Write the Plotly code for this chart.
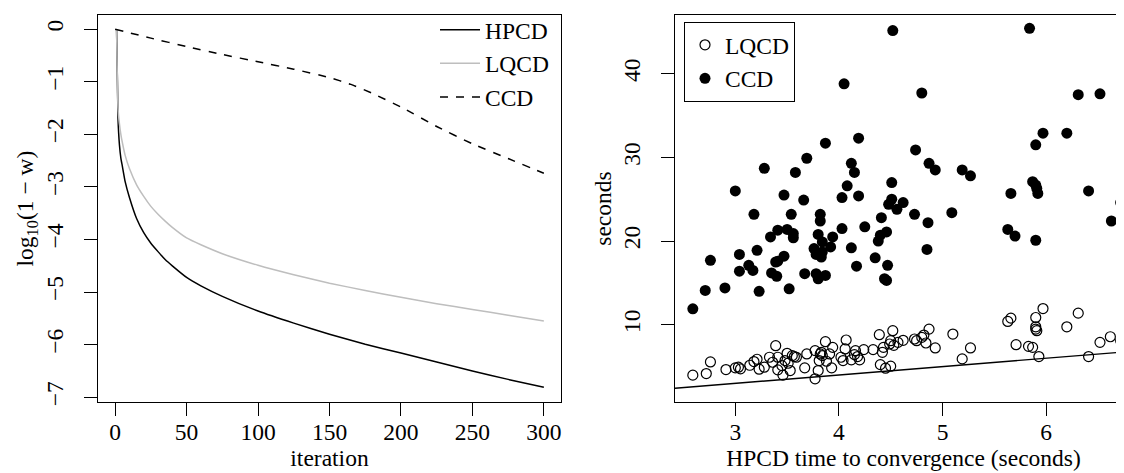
import plotly.graph_objects as go

# ---------------- Left panel data: log10(1 - w) by iteration ----------------
iter_hpcd = [1, 2, 3, 4, 5, 7, 10, 15, 20, 25, 30, 35, 40, 50, 60, 75, 100, 125, 150, 175, 200, 225, 250, 275, 300]
hpcd = [0, -1.70, -2.20, -2.45, -2.60, -2.90, -3.20, -3.60, -3.87, -4.07, -4.23, -4.38, -4.50, -4.72, -4.88, -5.08,
        -5.36, -5.59, -5.80, -5.99, -6.16, -6.33, -6.50, -6.66, -6.81]

iter_lqcd = [1, 2, 3, 4, 5, 7, 10, 15, 20, 25, 30, 35, 40, 50, 60, 75, 100, 125, 150, 175, 200, 225, 250, 275, 300]
lqcd = [0, -1.50, -1.80, -2.00, -2.15, -2.40, -2.65, -2.96, -3.18, -3.37, -3.52, -3.65, -3.77, -3.97, -4.10, -4.27,
        -4.49, -4.67, -4.83, -4.97, -5.10, -5.22, -5.33, -5.44, -5.55]

iter_ccd = [0, 25, 50, 75, 100, 125, 150, 165, 180, 200, 225, 250, 275, 300]
ccd = [0, -0.17, -0.33, -0.48, -0.62, -0.76, -0.92, -1.05, -1.22, -1.48, -1.85, -2.18, -2.46, -2.74]

left_xticks = [0, 50, 100, 150, 200, 250, 300]
left_yticks = [0, -1, -2, -3, -4, -5, -6, -7]
left_yticktext = ["0", "\u22121", "\u22122", "\u22123", "\u22124", "\u22125", "\u22126", "\u22127"]

# ---------------- Right panel data: seconds vs HPCD time ----------------
lqcd_time_x = [2.59, 2.72, 2.76, 2.91, 3.00, 3.03, 3.05, 3.14, 3.18, 3.21, 3.23, 3.28, 3.33, 3.36, 3.39, 3.41, 3.41,
               3.45, 3.46, 3.48, 3.50, 3.51, 3.53, 3.55, 3.57, 3.59, 3.67, 3.69, 3.77, 3.77, 3.80, 3.81, 3.82, 3.83,
               3.84, 3.87, 3.88, 3.91, 3.93, 3.94, 4.02, 4.04, 4.06, 4.07, 4.12, 4.15, 4.16, 4.18, 4.20, 4.24, 4.33,
               4.39, 4.40, 4.42, 4.43, 4.45, 4.49, 4.50, 4.50, 4.52, 4.53, 4.57, 4.62, 4.73, 4.75, 4.80, 4.82, 4.84,
               4.87, 4.93, 5.10, 5.19, 5.27, 5.63, 5.66, 5.71, 5.83, 5.87, 5.90, 5.90, 5.90, 5.91, 5.93, 5.97, 6.20,
               6.31, 6.41, 6.52, 6.62, 6.72]
lqcd_time_y = [3.98, 4.17, 5.56, 4.65, 4.85, 4.93, 4.73, 5.16, 5.60, 5.88, 4.69, 4.93, 6.12, 5.52, 7.50, 6.12, 4.61,
               5.12, 3.98, 5.72, 6.59, 5.40, 4.53, 6.31, 6.20, 6.12, 4.85, 6.51, 6.91, 3.54, 4.53, 5.72, 6.51, 6.71,
               6.31, 7.98, 5.64, 6.51, 4.85, 7.30, 6.12, 5.72, 7.11, 8.18, 5.80, 6.43, 6.91, 6.20, 5.80, 7.03, 7.03,
               8.81, 5.24, 6.71, 7.30, 4.81, 7.70, 5.05, 8.10, 9.29, 7.54, 7.90, 8.14, 8.30, 8.10, 8.49, 8.77, 7.82,
               9.48, 7.23, 8.89, 5.92, 7.23, 10.40, 10.79, 7.62, 7.42, 7.30, 10.87, 9.76, 9.48, 9.29, 6.20, 11.94,
               9.76, 11.39, 6.20, 7.90, 8.57, 8.10]

ccd_time_x = [4.52, 5.84, 4.05, 4.80, 6.31, 6.52, 5.97, 6.20, 4.19, 3.87, 5.90, 4.74, 3.69, 4.12, 4.87, 3.28, 4.93,
              5.19, 3.58, 4.15, 5.27, 5.87, 4.51, 5.90, 4.08, 5.91, 3.00, 6.41, 5.92, 5.66, 3.47, 4.19, 4.03, 4.51,
              3.66, 4.62, 4.48, 6.72, 4.56, 5.09, 3.54, 3.18, 4.73, 3.82, 4.41, 3.82, 4.86, 6.63, 4.25, 3.41, 3.50,
              4.03, 5.63, 4.46, 3.56, 3.80, 4.40, 5.70, 3.34, 3.94, 3.56, 4.38, 5.90, 3.84, 3.92, 4.12, 3.76, 4.85,
              3.21, 3.84, 3.78, 3.04, 3.47, 3.83, 4.35, 3.41, 3.39, 2.76, 3.13, 4.47, 4.17, 3.17, 3.04, 3.35, 3.67,
              3.78, 3.40, 3.87, 3.80, 4.44, 4.46, 2.90, 3.52, 2.71, 3.23, 2.59]
ccd_time_y = [45.16, 45.43, 38.80, 37.70, 37.50, 37.60, 32.90, 32.90, 32.30, 31.70, 31.50, 30.90, 29.90, 29.30, 29.30,
              28.70, 28.50, 28.50, 28.20, 28.20, 27.80, 27.10, 27.00, 26.70, 26.60, 26.30, 26.00, 26.00, 25.70, 25.70,
              25.50, 25.40, 25.20, 25.00, 24.90, 24.60, 24.40, 24.60, 23.80, 23.40, 23.20, 23.20, 23.20, 23.20, 22.80,
              22.40, 22.20, 22.40, 21.70, 21.30, 21.40, 21.50, 21.40, 21.10, 20.90, 20.80, 20.70, 20.60, 20.50, 20.50,
              20.40, 20.00, 20.10, 19.90, 19.30, 19.20, 19.10, 19.00, 18.90, 18.70, 18.40, 18.40, 18.20, 18.10, 18.00,
              17.60, 17.50, 17.70, 17.10, 17.10, 17.00, 16.50, 16.40, 16.20, 16.10, 16.10, 15.80, 15.90, 15.50, 15.50,
              15.30, 14.40, 14.30, 14.10, 14.00, 11.90]

identity_x = [2.0, 7.0]
identity_y = [2.0, 7.0]

right_xticks = [3, 4, 5, 6]
right_yticks = [10, 20, 30, 40]

FONT = "Liberation Serif"
FS = 23.5

fig = go.Figure()

fig.add_trace(go.Scatter(x=iter_hpcd, y=hpcd, mode="lines", name="HPCD",
                         line=dict(color="black", width=1.5, shape="spline", smoothing=0.4),
                         xaxis="x", yaxis="y", legend="legend"))
fig.add_trace(go.Scatter(x=iter_lqcd, y=lqcd, mode="lines", name="LQCD",
                         line=dict(color="#BEBEBE", width=1.5, shape="spline", smoothing=0.4),
                         xaxis="x", yaxis="y", legend="legend"))
fig.add_trace(go.Scatter(x=iter_ccd, y=ccd, mode="lines", name="CCD",
                         line=dict(color="black", width=1.5, dash="8px,8px", shape="spline", smoothing=0.4),
                         xaxis="x", yaxis="y", legend="legend"))

fig.add_trace(go.Scatter(x=identity_x, y=identity_y, mode="lines", showlegend=False,
                         line=dict(color="black", width=1.4), xaxis="x2", yaxis="y2"))
fig.add_trace(go.Scatter(x=lqcd_time_x, y=lqcd_time_y, mode="markers", name="LQCD",
                         marker=dict(symbol="circle-open", size=10, color="black", line=dict(width=1.2)),
                         xaxis="x2", yaxis="y2", legend="legend2"))
fig.add_trace(go.Scatter(x=ccd_time_x, y=ccd_time_y, mode="markers", name="CCD",
                         marker=dict(symbol="circle", size=11, color="black"),
                         xaxis="x2", yaxis="y2", legend="legend2"))

axis_common = dict(showline=True, linecolor="black", linewidth=1, ticks="outside", ticklen=13,
                   tickwidth=1, tickcolor="black", showgrid=False, zeroline=False,
                   tickfont=dict(family=FONT, size=FS, color="black"))

W, H = 1124, 473
L, R, T, B = 90, 0, 6, 79
pw = W - L - R
ph = H - T - B

fig.update_layout(
    width=W, height=H,
    margin=dict(l=L, r=R, t=T, b=B),
    paper_bgcolor="white", plot_bgcolor="white",
    font=dict(family=FONT, size=FS, color="black"),
    xaxis=dict(domain=[0, 463 / pw], range=[-12, 312], tickvals=left_xticks, mirror=True,
               ticklabelstandoff=-4,
               title=dict(text="iteration", font=dict(family=FONT, size=FS), standoff=4),
               **axis_common),
    yaxis=dict(domain=[0, 1], range=[-7.09, 0.27], tickvals=left_yticks, ticktext=left_yticktext,
               tickangle=-90, mirror=True, ticklabelstandoff=12,
               title=dict(text="log<sub>10</sub>(1 \u2212 w)", font=dict(family=FONT, size=FS), standoff=0),
               **axis_common),
    xaxis2=dict(domain=[(667 - L) / pw, 1], range=[2.418, 6.829], tickvals=right_xticks, mirror=True,
                anchor="y2", ticklabelstandoff=-4,
                title=dict(text="HPCD time to convergence (seconds)", font=dict(family=FONT, size=FS), standoff=4),
                **axis_common),
    yaxis2=dict(domain=[0, 1], range=[0.77, 47.02], tickvals=right_yticks, tickangle=-90,
                anchor="x2", mirror=False, ticklabelstandoff=12,
                title=dict(text="seconds", font=dict(family=FONT, size=FS), standoff=0),
                **axis_common),
    legend=dict(x=(427 - L) / pw, y=1 + (T + 1) / ph, xanchor="left", yanchor="top",
                bgcolor="rgba(0,0,0,0)", borderwidth=0, font=dict(family=FONT, size=FS),
                itemwidth=40, tracegroupgap=0),
    legend2=dict(x=(676 - L) / pw, y=1 - (14 - T) / ph, xanchor="left", yanchor="top",
                 bgcolor="white", bordercolor="black", borderwidth=1, font=dict(family=FONT, size=FS),
                 tracegroupgap=0),
)

fig.write_html("out.html")
